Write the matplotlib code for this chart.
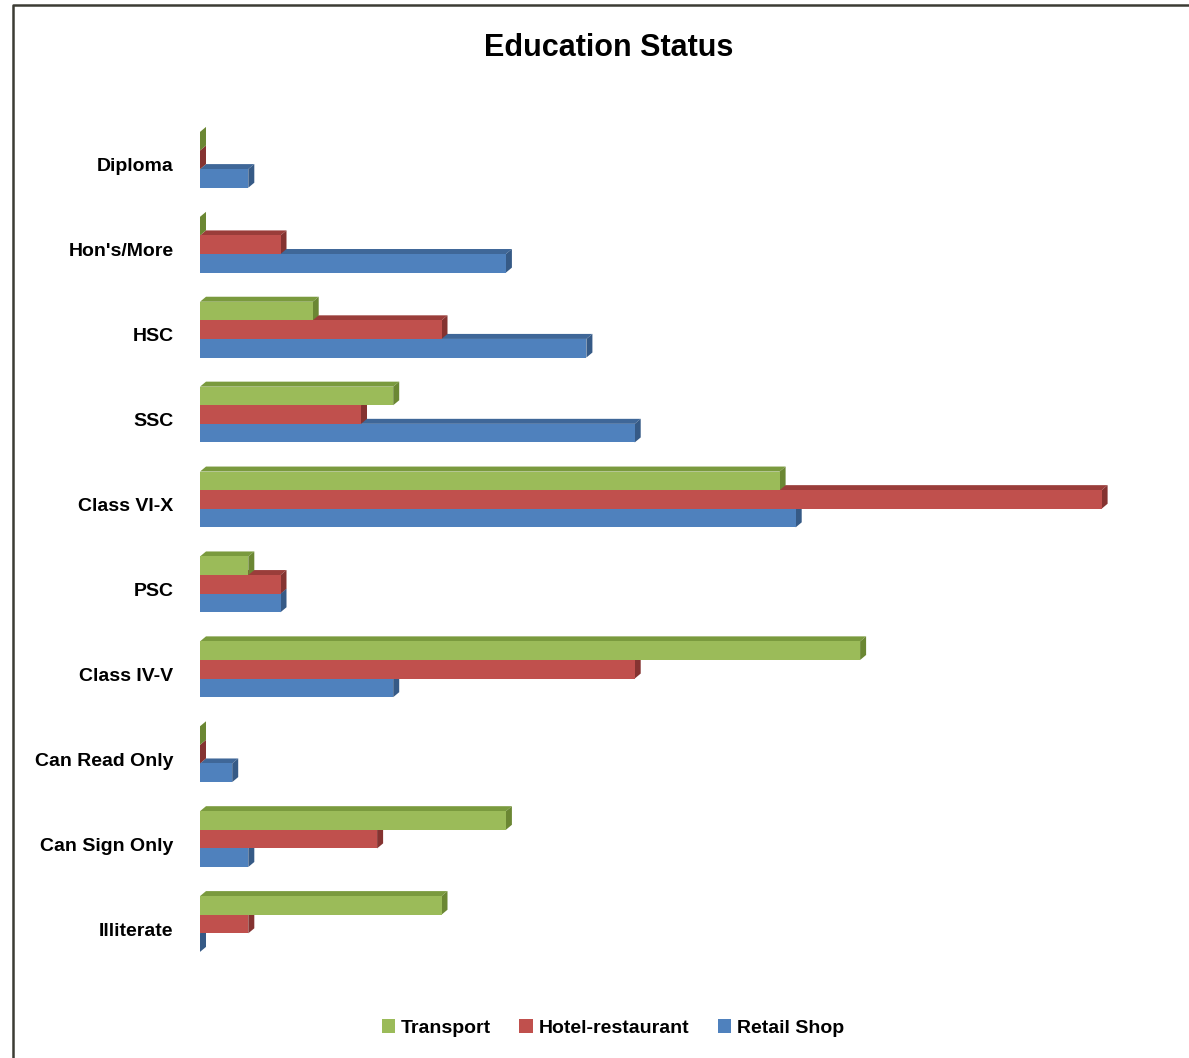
import matplotlib
matplotlib.use("Agg")
import matplotlib.pyplot as plt
from matplotlib.patches import Polygon
from matplotlib.lines import Line2D
from matplotlib.patches import Patch

categories = ["Diploma", "Hon's/More", "HSC", "SSC", "Class VI-X", "PSC",
              "Class IV-V", "Can Read Only", "Can Sign Only", "Illiterate"]
transport = [0, 0, 7, 12, 36, 3, 41, 0, 19, 15]
hotel = [0, 5, 15, 10, 56, 5, 27, 0, 11, 3]
retail = [3, 19, 24, 27, 37, 5, 12, 2, 3, 0]

series = [
    ("Transport", transport, "#9BBB59", "#7A9A3E", "#6B8733"),
    ("Hotel-restaurant", hotel, "#C0504D", "#9A3D3A", "#853331"),
    ("Retail Shop", retail, "#4F81BD", "#3F6798", "#365A86"),
]

plt.rcParams['font.family'] = ['Liberation Sans', 'DejaVu Sans']

fig = plt.figure(figsize=(11.89, 10.58), dpi=100)
ax = fig.add_axes([200 / 1189, 1 - 1000 / 1058, 60 * 16.1 / 1189, 920 / 1058])
ax.set_xlim(0, 60)
ax.set_ylim(9.835, -1.0)

h = 0.219          # bar thickness
dx = 0.373         # depth, x direction
dy = 0.059         # depth, y direction
shift = -0.06

# draw bottom series first so upper bars cover the top faces below them
for k in [2, 1, 0]:
    name, vals, front, top, side = series[k]
    off = shift + (k - 1) * h
    for i, v in enumerate(vals):
        yc = i + off
        y_top = yc - h / 2
        y_bot = yc + h / 2
        if v > 0:
            ax.add_patch(Polygon([(0, y_top), (v, y_top), (v + dx, y_top - dy),
                                  (dx, y_top - dy)], closed=True,
                                 facecolor=top, edgecolor="none", zorder=2 + 3 * (2 - k)))
        ax.add_patch(Polygon([(v, y_top), (v + dx, y_top - dy), (v + dx, y_bot - dy),
                              (v, y_bot)], closed=True,
                             facecolor=side, edgecolor="none", zorder=2 + 3 * (2 - k)))
    ax.barh([i + off for i in range(len(vals))], vals, height=h, color=front,
            edgecolor="none", zorder=3 + 3 * (2 - k))

ax.set_yticks(range(len(categories)))
ax.set_yticklabels(categories, fontsize=14, fontweight="bold")
ax.tick_params(axis="y", length=0, pad=19)
ax.set_xticks([])
for s in ax.spines.values():
    s.set_visible(False)

fig.text(609 / 1189, 1 - 48 / 1058, "Education Status", ha="center", va="center",
         fontsize=22, fontweight="bold")

handles = [Patch(facecolor=s[2], edgecolor="none") for s in series]
fig.legend(handles, [s[0] for s in series], loc="center", ncol=3,
           bbox_to_anchor=(613 / 1189, 1 - 1028 / 1058), frameon=False,
           prop={"size": 14, "weight": "bold"}, handlelength=0.7, handleheight=0.7,
           handletextpad=0.3, columnspacing=1.45)

# chart frame (only the left and top edges fall inside the picture)
fig.add_artist(Line2D([12.5 / 1189, 12.5 / 1189, 1.0], [0, 1 - 4.5 / 1058, 1 - 4.5 / 1058],
                      transform=fig.transFigure, color="#3c3c34", linewidth=1.8))

fig.savefig("out.png", dpi=100)
